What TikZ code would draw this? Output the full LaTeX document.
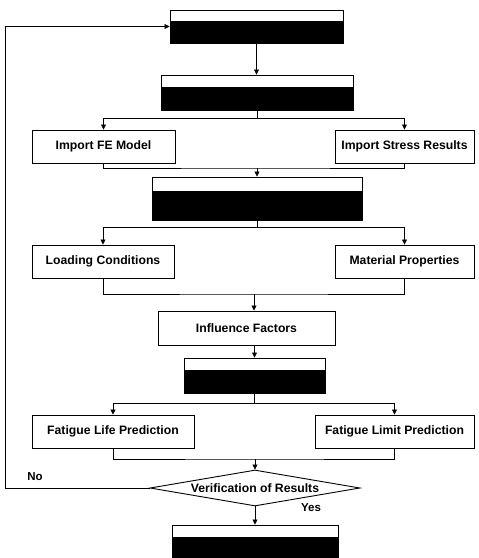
\documentclass[tikz,border=0pt]{standalone}
\usepackage{fontspec}
\setmainfont{Liberation Sans}
\usetikzlibrary{positioning,calc,arrows.meta,shapes.geometric}
\tikzset{
  fcbox/.style={rectangle, draw=black, line width=0.9pt, fill=white, inner sep=0pt, font=\fontsize{12.2}{14}\selectfont\bfseries},
  fchid/.style={rectangle, draw=black, line width=0.9pt, fill=black, inner sep=0pt,
    path picture={\fill[white] (path picture bounding box.north west) rectangle
      ($(path picture bounding box.north east)!0.33!(path picture bounding box.south east)$);}},
  fcdec/.style={diamond, draw=black, line width=0.9pt, inner sep=0pt, aspect=5.8, font=\fontsize{12.2}{14}\selectfont\bfseries},
  fcw/.style={draw=black, line width=0.8pt},
  fca/.style={fcw, -{Triangle[length=5pt,width=5pt]}},
  fclab/.style={font=\fontsize{11.5}{13}\selectfont\bfseries}
}
\begin{document}
\begin{tikzpicture}[x=1pt,y=-1pt]
  \useasboundingbox (0,0) rectangle (479,558);
  % boxes
  \node[fchid, minimum width=173pt, minimum height=33pt] (start) at (256.5,26.5) {};
  \node[fchid, minimum width=192pt, minimum height=35pt] (model) at (257,92.5) {};
  \node[fcbox, minimum width=143pt, minimum height=33pt] (femod) at (103.5,146.5) {Import FE Model};
  \node[fcbox, minimum width=139pt, minimum height=33pt] (stress) at (404.5,146.5) {Import Stress Results};
  \node[fchid, minimum width=210pt, minimum height=43pt] (input) at (257,198.5) {};
  \node[fcbox, minimum width=142pt, minimum height=33pt] (load) at (103,261.5) {Loading Conditions};
  \node[fcbox, minimum width=139pt, minimum height=33pt] (mater) at (404.5,261.5) {Material Properties};
  \node[fcbox, minimum width=177pt, minimum height=34pt] (infl) at (246.5,328) {Influence Factors};
  \node[fchid, minimum width=141pt, minimum height=35pt] (anal) at (254.5,375.5) {};
  \node[fcbox, minimum width=162pt, minimum height=33pt] (life) at (113,431.5) {Fatigue Life Prediction};
  \node[fcbox, minimum width=159pt, minimum height=33pt] (limit) at (394.5,431.5) {Fatigue Limit Prediction};
  \node[fcdec, minimum width=210pt, minimum height=36pt] (verif) at (255,488) {Verification of Results};
  \node[fchid, minimum width=166pt, minimum height=36pt] (final) at (255,543) {};
  % junctions
  \coordinate (sp1) at (257,118);
  \coordinate (mg1) at (257,168);
  \coordinate (sp2) at (257,227);
  \coordinate (mg2) at (254,294);
  \coordinate (sp3) at (254.5,403);
  \coordinate (mg3) at (255,459);
  \coordinate (back) at (5,488);
  % wires
  \draw[fca] (start) -- (start |- model.north);
  \draw[fcw] (model) -- (sp1);
  \draw[fca] (sp1) -| (femod);
  \draw[fca] (sp1) -| (stress);
  \draw[fcw] (femod) |- (mg1) -| (stress);
  \draw[fca] (mg1) -- (input);
  \draw[fcw] (input) -- (sp2);
  \draw[fca] (sp2) -| (load);
  \draw[fca] (sp2) -| (mater);
  \draw[fcw] (load) |- (mg2) -| (mater);
  \draw[fca] (mg2) -- (mg2 |- infl.north);
  \draw[fca] (infl.south -| anal) -- (anal);
  \draw[fcw] (anal) -- (sp3);
  \draw[fca] (sp3) -| (life);
  \draw[fca] (sp3) -| (limit);
  \draw[fcw] (life) |- (mg3) -| (limit);
  \draw[fca] (mg3) -- (verif);
  \draw[fca] (verif) -- (final);
  \draw[fca] (verif.west) -- (back) |- (start);
  % labels
  \node[fclab] (no) at (35,477) {No};
  \node[fclab] (yes) at (311,508) {Yes};
\end{tikzpicture}
\end{document}
